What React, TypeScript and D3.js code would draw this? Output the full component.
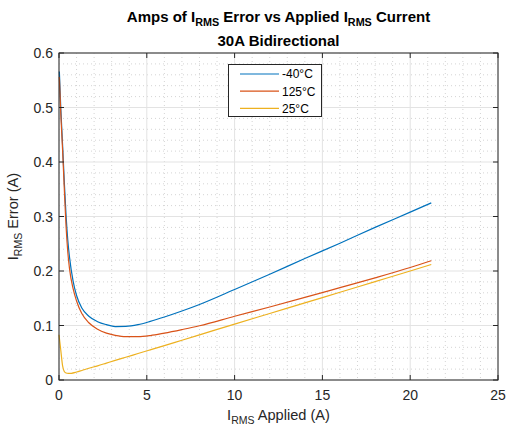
import React from "react";
import * as d3 from "d3";

const xValues = [0.02, 0.1, 0.2, 0.3, 0.4, 0.5, 0.6, 0.8, 1.0, 1.3, 1.7, 2.2, 2.7, 3.2, 3.8, 4.5, 5.2, 6, 7, 8, 10, 12, 14, 16, 18, 20, 21.2];
const seriesM40 = [0.566, 0.5, 0.434, 0.365, 0.303, 0.257, 0.225, 0.182, 0.155, 0.132, 0.117, 0.107, 0.1015, 0.098, 0.0983, 0.1015, 0.1075, 0.1155, 0.1265, 0.1385, 0.166, 0.194, 0.223, 0.251, 0.28, 0.308, 0.325];
const series125 = [0.556, 0.49, 0.425, 0.352, 0.283, 0.235, 0.204, 0.168, 0.145, 0.122, 0.105, 0.093, 0.086, 0.082, 0.0795, 0.0795, 0.0815, 0.086, 0.0925, 0.0995, 0.117, 0.134, 0.1515, 0.1695, 0.1875, 0.2065, 0.219];
const xValues25 = [0, 0.1, 0.2, 0.3, 0.4, 0.53, 0.7, 1.0, 1.3, 1.7, 2.2, 2.7, 3.2, 3.8, 4.5, 5.2, 6, 7, 8, 10, 12, 14, 16, 18, 20, 21.2];
const series25 = [0.083, 0.055, 0.027, 0.0155, 0.0128, 0.012, 0.0123, 0.0146, 0.0175, 0.0215, 0.026, 0.031, 0.036, 0.0418, 0.0486, 0.0554, 0.0632, 0.073, 0.0828, 0.1025, 0.122, 0.1415, 0.161, 0.1805, 0.2, 0.212];

const xTicks = [0, 5, 10, 15, 20, 25];
const yTicks = [0, 0.1, 0.2, 0.3, 0.4, 0.5, 0.6];
const legendLabels = ["-40°C", "125°C", "25°C"];
const colors = ["#0072BD", "#D95319", "#EDB120"];

const W = 507, H = 427;
const M = { left: 59, right: 498, top: 53, bottom: 380 };
const FONT = "'Liberation Sans', Arial, Helvetica, sans-serif";
const AX = "#262626";

export default function App() {
  const x = d3.scaleLinear().domain([0, 25]).range([M.left, M.right]);
  const y = d3.scaleLinear().domain([0, 0.6]).range([M.bottom, M.top]);
  const line = d3.line<[number, number]>().x(d => x(d[0])).y(d => y(d[1])).curve(d3.curveMonotoneX);

  const data: [number, number][][] = [
    xValues.map((v, i) => [v, seriesM40[i]]),
    xValues.map((v, i) => [v, series125[i]]),
    xValues25.map((v, i) => [v, series25[i]]),
  ];

  const xMinor = d3.range(0, 25.001, 1);
  const yMinor = d3.range(0, 0.6001, 0.02);

  return (
    <svg width={W} height={H} style={{ position: "absolute", left: 0, top: 0, background: "#fff" }} fontFamily={FONT}>
      <rect x={0} y={0} width={W} height={H} fill="#fff" />
      <rect x={M.left} y={M.top} width={M.right - M.left} height={M.bottom - M.top} fill="#fff" />
      {xMinor.filter(v => v % 5 !== 0).map(v => (
        <line key={"xm" + v} x1={x(v)} x2={x(v)} y1={M.top} y2={M.bottom} stroke="#d4d4d4" strokeWidth={1} strokeDasharray="1,3" />
      ))}
      {yMinor.filter(v => Math.abs(v * 10 - Math.round(v * 10)) > 1e-6).map(v => (
        <line key={"ym" + v} x1={M.left} x2={M.right} y1={y(v)} y2={y(v)} stroke="#d4d4d4" strokeWidth={1} strokeDasharray="1,3" />
      ))}
      {xTicks.map(v => (
        <line key={"xg" + v} x1={x(v)} x2={x(v)} y1={M.top} y2={M.bottom} stroke="#e3e3e3" strokeWidth={1} />
      ))}
      {yTicks.map(v => (
        <line key={"yg" + v} x1={M.left} x2={M.right} y1={y(v)} y2={y(v)} stroke="#e3e3e3" strokeWidth={1} />
      ))}
      {data.map((d, i) => (
        <path key={"s" + i} d={line(d) || ""} fill="none" stroke={colors[i]} strokeWidth={1.2} />
      ))}
      <rect x={M.left} y={M.top} width={M.right - M.left} height={M.bottom - M.top} fill="none" stroke={AX} strokeWidth={1} />
      {xTicks.map(v => (
        <g key={"xt" + v}>
          <line x1={x(v)} x2={x(v)} y1={M.bottom} y2={M.bottom - 5} stroke={AX} />
          <line x1={x(v)} x2={x(v)} y1={M.top} y2={M.top + 5} stroke={AX} />
          <text x={x(v)} y={M.bottom + 20} textAnchor="middle" fontSize={14} fill={AX}>{v}</text>
        </g>
      ))}
      {yTicks.map(v => (
        <g key={"yt" + v}>
          <line x1={M.left} x2={M.left + 5} y1={y(v)} y2={y(v)} stroke={AX} />
          <line x1={M.right} x2={M.right - 5} y1={y(v)} y2={y(v)} stroke={AX} />
          <text x={M.left - 6} y={y(v) + 5} textAnchor="end" fontSize={14} fill={AX}>{v}</text>
        </g>
      ))}
      <text x={(M.left + M.right) / 2} y={22} textAnchor="middle" fontSize={15} fontWeight="bold" fill="#000">
        Amps of I<tspan fontSize={10.8} dy={4}>RMS</tspan><tspan dy={-4}> Error vs Applied I</tspan><tspan fontSize={10.8} dy={4}>RMS</tspan><tspan dy={-4}> Current</tspan>
      </text>
      <text x={(M.left + M.right) / 2} y={46} textAnchor="middle" fontSize={15} fontWeight="bold" fill="#000">30A Bidirectional</text>
      <text x={(M.left + M.right) / 2} y={420} textAnchor="middle" fontSize={14.6} fill={AX}>
        I<tspan fontSize={10.5} dy={4}>RMS</tspan><tspan dy={-4}> Applied (A)</tspan>
      </text>
      <text transform={`translate(18,${(M.top + M.bottom) / 2}) rotate(-90)`} textAnchor="middle" fontSize={14.6} fill={AX}>
        I<tspan fontSize={10.5} dy={4}>RMS</tspan><tspan dy={-4}> Error (A)</tspan>
      </text>
      <rect x={228.5} y={64.5} width={93} height={52} fill="#fff" stroke={AX} strokeWidth={1} />
      {legendLabels.map((l, i) => (
        <g key={"lg" + i}>
          <line x1={240} x2={279} y1={74 + i * 17.2} y2={74 + i * 17.2} stroke={colors[i]} strokeWidth={1.2} />
          <text x={282} y={78.3 + i * 17.2} fontSize={12} fill="#000">{l}</text>
        </g>
      ))}
    </svg>
  );
}
